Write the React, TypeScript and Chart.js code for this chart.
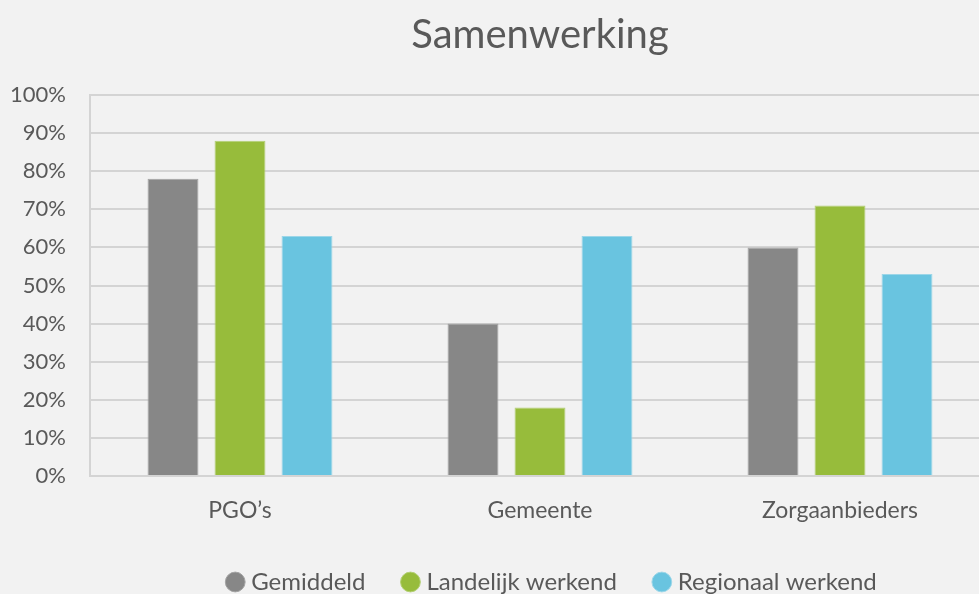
import React, { useEffect, useRef } from "react";
import { Chart, registerables } from "chart.js";

Chart.register(...registerables);

const categories = ["PGO\u2019s", "Gemeente", "Zorgaanbieders"];
const gemiddeld = [78, 40, 60];
const landelijk = [88, 18, 71];
const regionaal = [63, 63, 53];
const seriesNames = ["Gemiddeld", "Landelijk werkend", "Regionaal werkend"];
const yTicks = [0, 10, 20, 30, 40, 50, 60, 70, 80, 90, 100];

const FONT = "Lato, 'Noto Sans', sans-serif";
const TEXT = "#595959";
const CANVAS_W = 1108;

export default function App() {
  const ref = useRef<HTMLCanvasElement | null>(null);

  useEffect(() => {
    if (!ref.current) return;
    const chart = new Chart(ref.current, {
      type: "bar",
      data: {
        labels: categories,
        datasets: [
          { label: seriesNames[0], data: gemiddeld, backgroundColor: "#878787", borderColor: "#a3a3a3", borderWidth: 1 },
          { label: seriesNames[1], data: landelijk, backgroundColor: "#97bc3b", borderColor: "#b3cf75", borderWidth: 1 },
          { label: seriesNames[2], data: regionaal, backgroundColor: "#69c4e0", borderColor: "#9cd6e8", borderWidth: 1 },
        ],
      },
      options: {
        responsive: false,
        animation: false,
        maintainAspectRatio: false,
        datasets: { bar: { categoryPercentage: 0.67, barPercentage: 0.76 } },
        layout: { padding: 0 },
        plugins: {
          title: {
            display: true,
            fullSize: false,
            text: "Samenwerking",
            color: TEXT,
            font: { family: FONT, size: 40, weight: "normal" },
            padding: { top: 11, bottom: 36 },
          },
          legend: {
            position: "bottom",
            labels: {
              usePointStyle: true,
              pointStyle: "circle",
              boxWidth: 8,
              boxHeight: 14,
              padding: 41,
              color: TEXT,
              font: { family: FONT, size: 24 },
            },
          },
          tooltip: { enabled: false },
        },
        scales: {
          x: {
            grid: { display: false },
            border: { display: true, color: "#d4d4d4", width: 2 },
            ticks: { color: TEXT, font: { family: FONT, size: 23 }, padding: 13 },
            afterFit: (s: any) => { s.height = 53; },
          },
          y: {
            min: 0,
            max: 100,
            afterBuildTicks: (s: any) => { s.ticks = yTicks.map((v) => ({ value: v })); },
            grid: { color: "#d4d4d4", lineWidth: 2, drawTicks: false },
            border: { display: true, color: "#d4d4d4", width: 2 },
            ticks: {
              color: TEXT,
              font: { family: FONT, size: 22 },
              padding: 24,
              callback: (v: any) => v + "%",
            },
            afterFit: (s: any) => { s.width = 90; },
          },
          y2: {
            position: "right",
            display: true,
            grid: { display: false },
            border: { display: false },
            ticks: { display: false },
            afterFit: (s: any) => { s.width = CANVAS_W - 990; },
          },
        },
      },
    });
    return () => chart.destroy();
  }, []);

  return (
    <div
      style={{
        position: "fixed",
        left: 0,
        top: 0,
        width: 979,
        height: 594,
        overflow: "hidden",
        background: "#f2f2f2",
      }}
    >
      <canvas ref={ref} width={CANVAS_W} height={604} style={{ display: "block" }} />
    </div>
  );
}
